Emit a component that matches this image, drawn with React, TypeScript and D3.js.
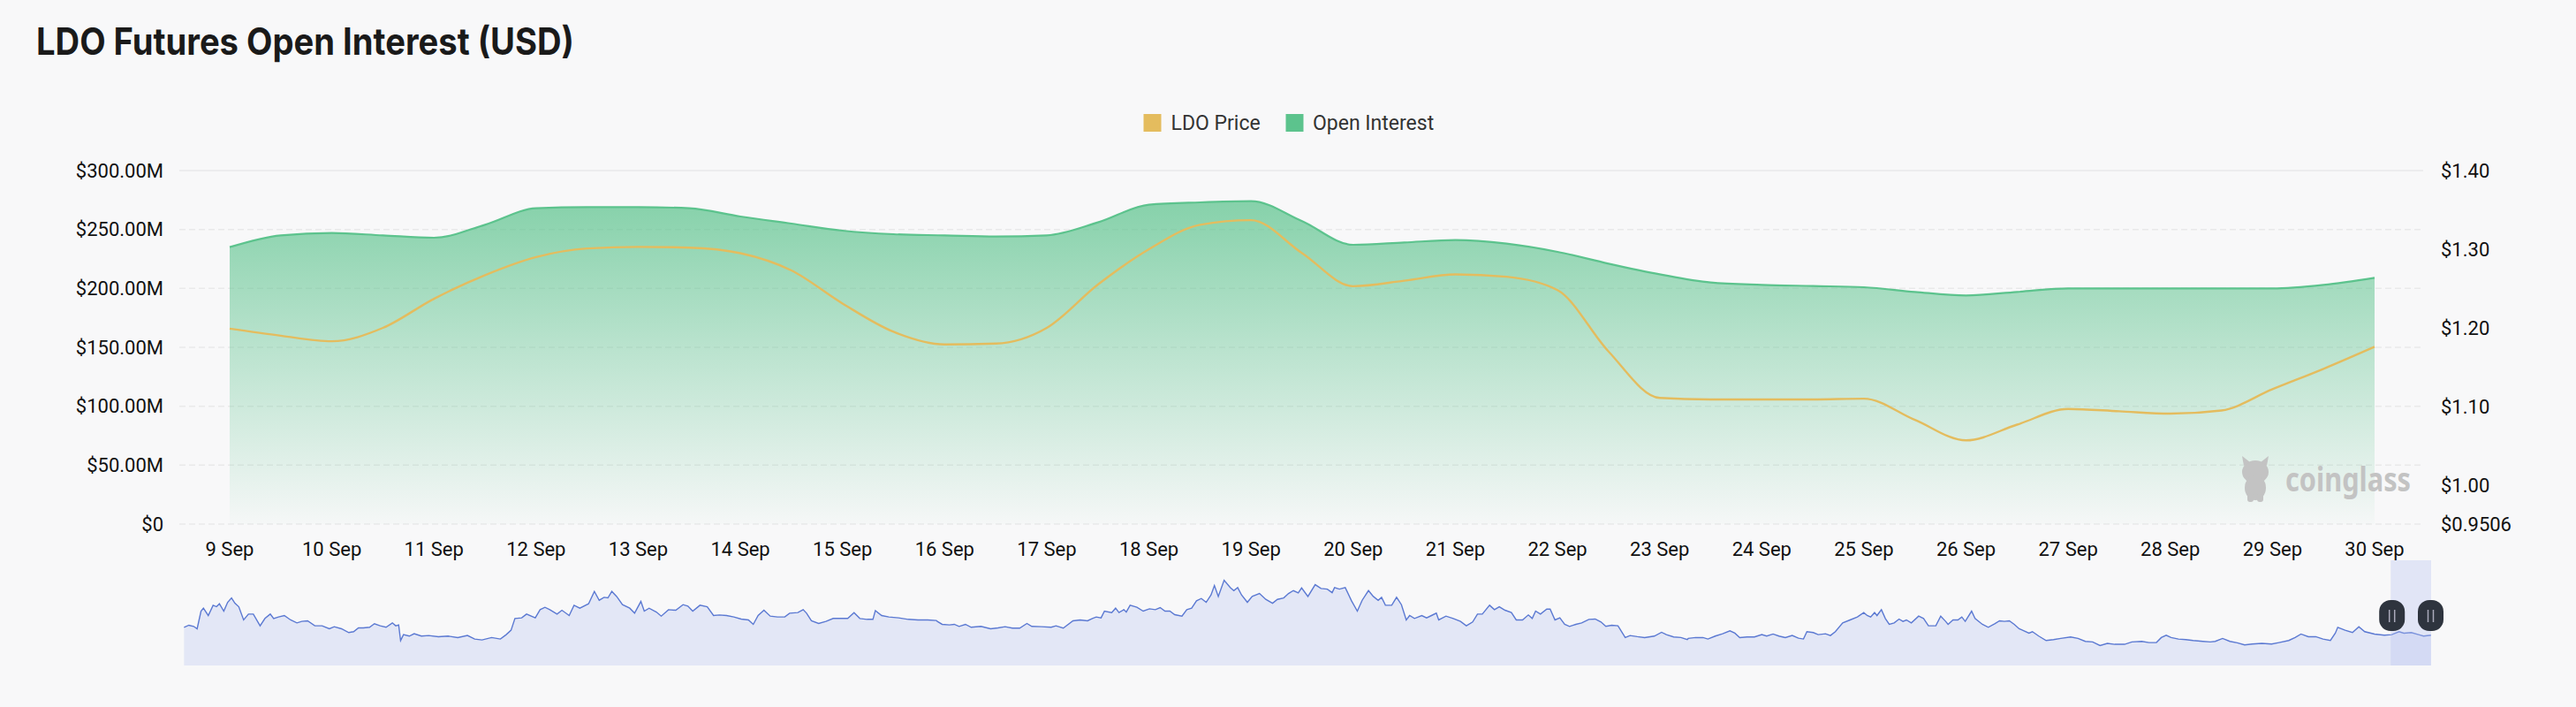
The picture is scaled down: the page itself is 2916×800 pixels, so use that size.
import * as React from 'react';
import * as d3 from 'd3';

// 12-hourly samples, 9 Sep 00:00 -> 30 Sep 00:00
const startDate = new Date(2024, 8, 9);
const endDate = new Date(2024, 8, 30);

const openInterest: number[] = [
	235, 245, 247, 245, 243, 254, 268, 269, 269, 268, 261, 255, 249, 246, 245, 244, 245, 256, 271, 273, 274, 257,
	237, 239, 241, 238, 231, 221, 212, 205, 203, 202, 201, 197, 194, 197, 200, 200, 200, 200, 200, 203, 209
];

const ldoPrice: number[] = [
	1.199, 1.19, 1.183, 1.2, 1.237, 1.267, 1.29, 1.301, 1.303, 1.302, 1.295, 1.273, 1.231, 1.195, 1.179, 1.18, 1.2,
	1.255, 1.3, 1.331, 1.337, 1.295, 1.253, 1.26, 1.268, 1.265, 1.248, 1.17, 1.111, 1.109, 1.109, 1.109, 1.11, 1.083,
	1.057, 1.077, 1.097, 1.094, 1.091, 1.095, 1.122, 1.148, 1.176
];

const oiTicks = [0, 50, 100, 150, 200, 250, 300];
const priceTicks = [1.0, 1.1, 1.2, 1.3, 1.4];
const priceMin = 0.9506;

// navigator series, read in three stretches: [reading position, level]
const navA: [number, number][] = [
	[15, 130], [25, 137], [35, 133], [42, 125], [50, 185], [55, 195], [65, 170], [75, 205], [82, 200], [88, 210],
	[97, 185], [105, 215], [113, 230], [120, 212], [128, 200], [138, 155], [148, 175], [158, 175], [172, 135],
	[182, 160], [193, 175], [200, 160], [210, 165], [222, 170], [235, 155], [248, 145], [258, 150], [270, 152],
	[285, 135], [300, 135], [315, 125], [325, 132], [340, 125], [355, 112], [365, 115], [375, 128], [385, 128],
	[398, 130], [408, 142], [420, 135], [432, 130], [445, 145], [452, 135], [458, 138], [462, 85], [468, 105],
	[480, 100], [490, 108], [505, 100], [520, 102], [540, 98], [560, 100], [580, 95], [600, 102], [615, 90],
	[630, 87], [650, 95], [668, 90], [680, 105], [690, 120], [698, 160], [712, 162], [722, 175], [740, 162],
	[750, 190], [760, 198], [770, 190], [785, 175], [795, 188], [810, 170], [820, 205], [832, 195], [850, 210],
	[862, 252], [872, 222], [882, 232], [890, 230], [898, 252], [908, 235], [920, 207], [935, 195], [945, 178],
	[958, 218], [965, 185], [975, 195], [990, 182], [1000, 168], [1015, 190], [1030, 188], [1045, 207],
	[1055, 202], [1065, 185], [1080, 205], [1095, 200], [1108, 170], [1120, 172], [1135, 170], [1150, 165],
	[1165, 158], [1180, 155], [1190, 140], [1200, 170], [1212, 188], [1225, 168], [1240, 165], [1255, 165],
	[1265, 178], [1282, 180], [1293, 190], [1300, 178], [1310, 152], [1325, 143], [1340, 150], [1355, 160],
	[1370, 160], [1385, 160], [1398, 180], [1410, 160], [1425, 157], [1437, 157], [1442, 187], [1455, 170],
	[1470, 165], [1490, 162], [1510, 157], [1530, 155], [1550, 155], [1568, 153]
];

const navB: [number, number][] = [
	[20, 150], [30, 140], [45, 138], [55, 140], [65, 133], [78, 140], [90, 130], [110, 133], [130, 125], [145, 128],
	[160, 132], [175, 127], [190, 127], [205, 143], [215, 133], [235, 132], [255, 130], [265, 135], [280, 127],
	[300, 152], [315, 155], [330, 152], [340, 160], [348, 165], [358, 162], [365, 185], [380, 180], [388, 195],
	[395, 180], [405, 190], [410, 182], [418, 205], [432, 198], [445, 185], [458, 193], [470, 190], [480, 197],
	[490, 185], [500, 185], [510, 173], [525, 168], [535, 190], [545, 195], [555, 220], [565, 228], [575, 215],
	[585, 240], [592, 272], [600, 235], [612, 290], [625, 265], [632, 255], [640, 265], [648, 240], [660, 215],
	[670, 235], [685, 245], [698, 225], [712, 212], [722, 225], [735, 230], [745, 245], [755, 255], [765, 247],
	[772, 264], [785, 235], [800, 275], [812, 262], [825, 260], [835, 248], [840, 265], [850, 260], [862, 265],
	[875, 220], [887, 185], [897, 222], [910, 255], [920, 235], [930, 222], [937, 232], [945, 205], [958, 205],
	[968, 232], [978, 207], [988, 155], [995, 170], [1005, 160], [1020, 170], [1030, 162], [1040, 170],
	[1050, 178], [1055, 155], [1070, 168], [1085, 160], [1100, 150], [1112, 135], [1125, 148], [1135, 175],
	[1145, 175], [1160, 205], [1170, 190], [1180, 200], [1192, 188], [1205, 180], [1215, 155], [1228, 155],
	[1240, 172], [1248, 160], [1255, 185], [1265, 175], [1278, 192], [1285, 192], [1295, 155], [1305, 162],
	[1315, 140], [1325, 133], [1338, 140], [1350, 145], [1365, 157], [1378, 158], [1390, 148], [1400, 133],
	[1412, 137], [1425, 135], [1440, 95], [1450, 102], [1465, 98], [1480, 95], [1500, 100], [1515, 113],
	[1525, 105], [1540, 97], [1555, 95], [1568, 88]
];

const navC: [number, number][] = [
	[20, 92], [35, 95], [50, 95], [60, 90], [75, 100], [90, 108], [105, 118], [115, 110], [125, 95], [140, 97],
	[155, 97], [170, 105], [180, 100], [193, 107], [205, 100], [218, 95], [232, 102], [245, 93], [255, 90],
	[262, 115], [275, 112], [285, 105], [300, 108], [310, 102], [320, 115], [335, 145], [350, 155], [365, 165],
	[378, 180], [385, 170], [392, 165], [400, 180], [405, 170], [414, 190], [422, 160], [430, 140], [440, 145],
	[450, 158], [458, 150], [465, 155], [475, 145], [490, 168], [500, 160], [510, 135], [525, 135], [535, 168],
	[545, 150], [550, 140], [560, 155], [570, 155], [578, 165], [585, 150], [598, 185], [605, 160], [620, 140],
	[632, 130], [645, 142], [655, 152], [665, 150], [675, 152], [685, 140], [695, 125], [705, 118], [715, 110],
	[722, 115], [735, 100], [750, 85], [765, 88], [780, 92], [800, 97], [815, 92], [830, 82], [845, 80],
	[860, 68], [875, 75], [890, 72], [910, 72], [925, 80], [945, 82], [960, 78], [975, 78], [985, 95],
	[995, 103], [1005, 95], [1020, 90], [1035, 88], [1050, 85], [1070, 82], [1085, 80], [1095, 82], [1110, 92],
	[1125, 82], [1140, 77], [1155, 70], [1170, 73], [1190, 75], [1210, 73], [1225, 78], [1245, 85], [1258, 95],
	[1270, 107], [1285, 98], [1300, 98], [1315, 90], [1330, 85], [1340, 110], [1345, 130], [1360, 120],
	[1375, 112], [1388, 132], [1400, 115], [1420, 107], [1440, 103], [1455, 105], [1470, 115], [1480, 110],
	[1495, 112], [1510, 105], [1520, 100], [1535, 103]
];

// each stretch spans this part of the navigator's time range
const navSegments = [
	{ data: navA, t: [-0.0031, 0.3349] },
	{ data: navB, t: [0.331, 0.669] },
	{ data: navC, t: [0.6651, 1.0071] }
];
const navSelection = [0.982, 1];

const W = 2916;
const H = 800;
const GREEN = '#5cc38d';
const YELLOW = '#e4bc5e';

export default function App() {
	const dates = d3.range(openInterest.length).map((i) => d3.timeHour.offset(startDate, i * 12));

	const x = d3.scaleTime().domain([startDate, endDate]).range([260, 2688]);
	const yOI = d3.scaleLinear().domain([0, 300]).range([593, 193]);
	const yPrice = d3.scaleLinear().domain([priceMin, 1.4]).range([593, 193]);

	const oiArea = d3
		.area<number>()
		.x((_, i) => x(dates[i]))
		.y0(yOI(0))
		.y1((d) => yOI(d))
		.curve(d3.curveMonotoneX);
	const oiLine = d3
		.line<number>()
		.x((_, i) => x(dates[i]))
		.y((d) => yOI(d))
		.curve(d3.curveMonotoneX);
	const priceLine = d3
		.line<number>()
		.x((_, i) => x(dates[i]))
		.y((d) => yPrice(d))
		.curve(d3.curveMonotoneX);

	// navigator
	const navX = d3.scaleLinear().domain([0, 1]).range([208, 2752]);
	const navY = d3.scaleLinear().domain([0, 340]).range([753, 640]);
	const navPoints: [number, number][] = [];
	navSegments.forEach((s) => {
		const t = d3.scaleLinear().domain([0, 1568]).range(s.t);
		s.data.forEach(([p, v]) => navPoints.push([t(p), v]));
	});
	const navLine = d3
		.line<[number, number]>()
		.x((d) => navX(d[0]))
		.y((d) => navY(d[1]));
	const navArea = d3
		.area<[number, number]>()
		.x((d) => navX(d[0]))
		.y0(navY(0))
		.y1((d) => navY(d[1]));

	const dayTicks = d3.timeDay.range(startDate, d3.timeDay.offset(endDate, 1));
	const fmt = d3.timeFormat('%-d %b');

	const selX0 = navX(navSelection[0]);
	const selX1 = navX(navSelection[1]);
	const handles = [selX0 - 13, selX1 - 15];

	return (
		<svg
			width={W}
			height={H}
			viewBox={`0 0 ${W} ${H}`}
			style={{ position: 'absolute', left: 0, top: 0, background: '#f8f8f9' }}
			fontFamily="Roboto, 'Noto Sans', sans-serif"
		>
			<defs>
				<linearGradient id="oiFill" gradientUnits="userSpaceOnUse" x1="0" y1={yOI(300)} x2="0" y2={yOI(0)}>
					<stop offset="0" stopColor={GREEN} stopOpacity={0.8} />
					<stop offset="0.5" stopColor={GREEN} stopOpacity={0.4} />
					<stop offset="1" stopColor={GREEN} stopOpacity={0.02} />
				</linearGradient>
			</defs>

			<text
				x={41}
				y={62}
				fontFamily="Inter, 'Noto Sans', sans-serif"
				fontWeight={700}
				fontSize={42}
				fill="#1a1a1a"
				textLength={609}
				lengthAdjust="spacingAndGlyphs"
			>
				LDO Futures Open Interest (USD)
			</text>

			{/* legend */}
			<g fontSize={23} fill="#333">
				<rect x={1294.5} y={129} width={20} height={20} fill={YELLOW} />
				<text x={1325.5} y={139} dominantBaseline="central">
					LDO Price
				</text>
				<rect x={1455.5} y={129} width={20} height={20} fill={GREEN} />
				<text x={1486} y={139} dominantBaseline="central">
					Open Interest
				</text>
			</g>

			{/* grid */}
			{oiTicks.map((t) => (
				<line
					key={t}
					x1={203}
					x2={2743}
					y1={yOI(t)}
					y2={yOI(t)}
					stroke="#e9e9ea"
					strokeWidth={1.5}
					strokeDasharray={t === 300 ? undefined : '7 4'}
				/>
			))}

			<path d={oiArea(openInterest) || ''} fill="url(#oiFill)" />
			<path d={oiLine(openInterest) || ''} fill="none" stroke={GREEN} strokeWidth={2.2} />
			<path d={priceLine(ldoPrice) || ''} fill="none" stroke={YELLOW} strokeWidth={2.4} />

			{/* watermark */}
			<g fill="#c3c3c3">
				<ellipse cx={2553} cy={534} rx={15} ry={13} />
				<path d="M2540,527 L2538,516 L2547,523 Z M2566,527 L2568,516 L2559,523 Z" />
				<ellipse cx={2553} cy={552} rx={12} ry={14} />
				<rect x={2544} y={558} width={7} height={10} rx={3} />
				<rect x={2555} y={558} width={7} height={10} rx={3} />
				<text
					x={2587}
					y={556}
					fontSize={38}
					fontWeight={700}
					fontFamily="'Noto Sans', sans-serif"
					textLength={142}
					lengthAdjust="spacingAndGlyphs"
				>
					coinglass
				</text>
			</g>

			{/* left axis */}
			<g fontSize={22} fill="#111" textAnchor="end">
				{oiTicks.map((t) => (
					<text key={t} x={185} y={yOI(t)} dominantBaseline="central">
						{t === 0 ? '$0' : `$${t.toFixed(2)}M`}
					</text>
				))}
			</g>

			{/* right axis */}
			<g fontSize={22} fill="#111">
				{priceTicks.map((t) => (
					<text key={t} x={2763} y={yPrice(t)} dominantBaseline="central">
						{`$${t.toFixed(2)}`}
					</text>
				))}
				<text x={2763} y={yPrice(priceMin)} dominantBaseline="central">
					{`$${priceMin}`}
				</text>
			</g>

			{/* x axis */}
			<g fontSize={22} fill="#111" textAnchor="middle">
				{dayTicks.map((d) => (
					<text key={d.getTime()} x={x(d)} y={621} dominantBaseline="central">
						{fmt(d)}
					</text>
				))}
			</g>

			{/* navigator */}
			<path d={navArea(navPoints) || ''} fill="#e3e7f6" />
			<path d={navLine(navPoints) || ''} fill="none" stroke="#5b79d2" strokeWidth={1.4} />
			<rect x={selX0} y={634} width={selX1 - selX0} height={119} fill="#b7c4f0" fillOpacity={0.35} />
			{handles.map((hx, i) => (
				<g key={i}>
					<rect x={hx} y={679} width={29} height={35} rx={13} fill="#2e343e" />
					<line x1={hx + 11.5} x2={hx + 11.5} y1={690} y2={704} stroke="#aab" strokeWidth={1.5} />
					<line x1={hx + 17.5} x2={hx + 17.5} y1={690} y2={704} stroke="#aab" strokeWidth={1.5} />
				</g>
			))}
		</svg>
	);
}
